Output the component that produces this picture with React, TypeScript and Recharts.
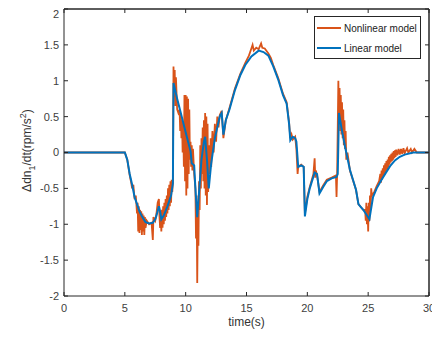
import React from 'react';
import { LineChart, Line, XAxis, YAxis, Legend, ReferenceLine } from 'recharts';

// ---- Data ----
const seriesNames = ['Nonlinear model', 'Linear model'];
const seriesColors = ['#D95319', '#0072BD'];

const xTicks = [0, 5, 10, 15, 20, 25, 30];
const yTicks = [-2, -1.5, -1, -0.5, 0, 0.5, 1, 1.5, 2];

const linearTime = [
  0, 5.0, 5.2, 5.4, 5.6, 5.8, 6.0, 6.2, 6.4, 6.7, 7.0, 7.3, 7.5, 7.6, 7.8, 7.9, 8.0, 8.2, 8.5, 8.8,
  8.95, 9.0, 9.3, 9.6, 9.9, 10.2, 10.4, 10.5, 10.7, 10.8, 10.95, 11.1, 11.3, 11.5, 11.6, 11.75, 11.9,
  12.1, 12.4, 12.8, 12.96, 13.1, 13.3, 13.6, 14.05, 14.5, 14.9, 15.4, 16.0, 16.4, 16.8, 17.2, 17.6,
  18.0, 18.3, 18.5, 18.6, 18.8, 19.0, 19.1, 19.25, 19.5, 19.7, 19.8, 20.0, 20.2, 20.6, 20.8, 21.0,
  21.3, 21.6, 22.0, 22.4, 22.5, 22.6, 22.8, 23.1, 23.5, 24.0, 24.2, 24.4, 24.6, 24.8, 25.1, 25.4,
  25.7, 26.1, 26.5, 26.8, 27.2, 27.6, 28.0, 28.7, 30,
];
const linearValue = [
  0, 0, -0.1, -0.3, -0.45, -0.62, -0.72, -0.82, -0.89, -0.97, -0.99, -0.98, -0.93, -0.88, -0.75, -0.82, -0.93, -0.88, -0.75, -0.6,
  -0.43, 0.97, 0.75, 0.55, 0.35, 0.15, 0.02, -0.15, -0.18, -0.5, -0.9, -0.55, -0.1, 0.15, 0.22, -0.1, -0.5,
  -0.15, 0.2, 0.5, 0.55, 0.25, 0.45, 0.6, 0.87, 1.08, 1.22, 1.34, 1.42, 1.4, 1.35, 1.2, 1.02,
  0.8, 0.68, 0.4, 0.17, 0.22, 0.2, 0.15, -0.2, -0.18, -0.2, -0.89, -0.65, -0.5, -0.28, -0.3, -0.57,
  -0.48, -0.4, -0.36, -0.34, -0.3, 0.55, 0.35, 0.08, -0.24, -0.52, -0.72, -0.76, -0.8, -0.85, -0.93, -0.62,
  -0.5, -0.38, -0.27, -0.19, -0.11, -0.06, -0.03, 0, 0,
];

const nonlinearTime = [
  0, 5.0, 5.2, 5.4, 5.5, 5.6, 5.7, 5.8, 5.9, 6.0, 6.05, 6.1, 6.15, 6.2, 6.25, 6.3, 6.35, 6.4, 6.45, 6.5,
  6.55, 6.6, 6.65, 6.7, 6.8, 7.0, 7.2, 7.3, 7.35, 7.5, 7.6, 7.7, 7.8, 7.85, 7.9, 7.95, 8.0, 8.05, 8.1,
  8.15, 8.2, 8.25, 8.3, 8.35, 8.4, 8.45, 8.5, 8.55, 8.6, 8.65, 8.7, 8.75, 8.8, 8.85, 8.9, 8.95,
  9.0, 9.05, 9.1, 9.15, 9.2, 9.3, 9.4, 9.5, 9.55, 9.6, 9.65, 9.7, 9.75, 9.8, 9.85, 9.9, 9.95, 10.0,
  10.05, 10.1, 10.15, 10.2, 10.25, 10.3, 10.35, 10.4, 10.45, 10.5, 10.55, 10.6, 10.7, 10.8, 10.85, 10.9,
  10.95, 11.0, 11.05, 11.1, 11.15, 11.2, 11.25, 11.3, 11.35, 11.4, 11.45, 11.5, 11.55, 11.6, 11.65, 11.7,
  11.75, 11.8, 11.85, 11.9, 12.0, 12.05, 12.1, 12.2, 12.3, 12.4, 12.5, 12.6, 12.7, 12.8, 12.96, 13.1,
  13.3, 13.6, 14.05, 14.5, 14.9, 15.2, 15.4, 15.5, 15.6, 15.8, 16.0, 16.2, 16.3, 16.5, 16.8, 17.0, 17.2,
  17.6, 18.0, 18.3, 18.5, 18.6, 18.7, 18.8, 19.0, 19.1, 19.2, 19.25, 19.5, 19.7, 19.8, 20.0, 20.2, 20.5,
  20.6, 20.65, 20.7, 20.8, 21.0, 21.3, 21.6, 22.0, 22.35, 22.4, 22.45, 22.55, 22.6, 22.65, 22.7, 22.75,
  22.8, 22.85, 22.9, 22.95, 23.0, 23.05, 23.1, 23.15, 23.2, 23.3, 23.5, 24.0, 24.2, 24.4, 24.6, 24.75,
  24.8, 24.85, 24.9, 24.95, 25.0, 25.05, 25.1, 25.15, 25.2, 25.25, 25.3, 25.5, 25.7, 25.9, 26.0, 26.05,
  26.1, 26.15, 26.2, 26.25, 26.3, 26.35, 26.4, 26.45, 26.5, 26.55, 26.6, 26.65, 26.7, 26.75, 26.8, 26.85,
  26.9, 26.95, 27.0, 27.05, 27.1, 27.15, 27.2, 27.25, 27.3, 27.4, 27.5, 27.6, 27.7, 27.8, 27.9, 28.0,
  28.2, 28.3, 28.5, 28.6, 28.8, 29.0, 30,
];
const nonlinearValue = [
  0, 0, -0.1, -0.32, -0.4, -0.5, -0.45, -0.65, -0.6, -0.85, -0.7, -1.1, -0.75, -1.12, -0.8, -1.08, -0.82, -1.15, -0.85, -1.1,
  -0.88, -1.15, -0.9, -1.05, -0.95, -1.0, -0.98, -1.22, -0.9, -0.95, -0.85, -0.7, -0.65, -0.9, -1.05, -0.85, -1.1, -0.8, -1.05,
  -0.75, -1.0, -0.7, -0.95, -0.65, -0.9, -0.6, -0.85, -0.5, -0.8, -0.45, -0.75, -0.4, -0.7, -0.38, -0.55, -0.4,
  1.2, 0.8, 1.15, 0.65, 1.05, 0.6, 0.55, 0.6, 0.3, 0.55, 0.2, 0.45, 0.0, 0.4, -0.2, 0.8, -0.4, 0.8,
  -0.6, 0.78, -0.5, 0.75, -0.3, 0.6, -0.1, 0.15, -0.2, 0.1, -0.25, 0.05, -0.3, -0.5, -1.2, -0.6,
  -1.82, -0.9, -1.3, -0.4, -0.8, 0.1, -0.5, 0.2, -0.3, 0.35, -0.4, 0.45, -0.5, 0.55, -0.6, 0.5,
  -0.73, 0.4, -0.55, 0.1, -0.3, 0.2, -0.2, 0.3, 0.0, 0.4, 0.15, 0.5, 0.35, 0.52, 0.58, 0.2,
  0.45, 0.62, 0.89, 1.1, 1.25, 1.35, 1.45, 1.5, 1.42, 1.46, 1.44, 1.52, 1.46, 1.45, 1.38, 1.32, 1.22,
  1.04, 0.82, 0.7, 0.42, 0.2, 0.25, 0.18, 0.22, 0.05, -0.3, -0.2, -0.17, -0.2, -0.85, -0.62, -0.48, -0.3,
  -0.08, -0.35, -0.25, -0.32, -0.55, -0.46, -0.38, -0.35, -0.32, -0.62, -0.3, 1.0, 0.4, 0.9, 0.3, 0.8,
  0.25, 0.7, 0.2, 0.6, 0.1, 0.45, 0.05, 0.3, -0.1, 0.0, -0.25, -0.52, -0.72, -0.76, -0.8, -0.8,
  -0.95, -0.7, -1.0, -0.75, -1.1, -0.7, -0.95, -0.6, -0.8, -0.5, -0.6, -0.55, -0.47, -0.4, -0.3, -0.42,
  -0.25, -0.38, -0.22, -0.33, -0.18, -0.3, -0.15, -0.27, -0.12, -0.24, -0.1, -0.2, -0.06, -0.17, -0.04, -0.14,
  -0.02, -0.12, 0.0, -0.1, 0.02, -0.08, 0.03, -0.06, 0.04, -0.04, 0.05, -0.03, 0.05, -0.02, 0.06, -0.01,
  0.06, 0.0, 0.05, 0.0, 0.05, 0.0, 0,
];

const linearData = linearTime.map((t, i) => ({ t, v: linearValue[i] }));
const nonlinearData = nonlinearTime.map((t, i) => ({ t, v: nonlinearValue[i] }));

const FONT = '"Liberation Sans", Arial, Helvetica, sans-serif';
const AXIS = '#262626';
const TICK_TEXT = { fontSize: 11, fill: '#404040', fontFamily: FONT };

const emptyTick = () => <g />;

const YLabel = (props: any) => {
  const vb = props.viewBox || {};
  const cx = 23;
  const cy = (vb.y ?? 0) + (vb.height ?? 0) / 2 - 2;
  return (
    <text
      x={cx}
      y={cy}
      transform={`rotate(-90, ${cx}, ${cy})`}
      textAnchor="middle"
      fontSize={12}
      fontFamily={FONT}
      fill="#333"
    >
      <tspan>Δdn</tspan>
      <tspan dy={4} fontSize={9}>1</tspan>
      <tspan dy={-4}>/dt(rpm/s</tspan>
      <tspan dy={-5} fontSize={9}>2</tspan>
      <tspan dy={5}>)</tspan>
    </text>
  );
};

const renderLegend = () => (
  <div
    style={{
      border: '1px solid #262626',
      background: '#fff',
      width: 105,
      height: 40,
      boxSizing: 'content-box',
      fontFamily: FONT,
      fontSize: 10,
      color: '#222',
      paddingTop: 1,
    }}
  >
    {seriesNames.map((name, i) => (
      <div key={name} style={{ display: 'flex', alignItems: 'center', height: 20 }}>
        <span
          style={{
            display: 'inline-block',
            width: 24,
            height: 2,
            marginLeft: 2,
            background: seriesColors[i],
          }}
        />
        <span style={{ marginLeft: 3, whiteSpace: 'nowrap' }}>{name}</span>
      </div>
    ))}
  </div>
);

export default function App() {
  return (
    <LineChart
      width={432}
      height={330}
      margin={{ top: 0, right: 10, bottom: 8, left: 0 }}
      style={{ background: '#fff' }}
    >
      <XAxis
        xAxisId="main"
        type="number"
        dataKey="t"
        domain={[0, 30]}
        ticks={xTicks}
        height={34}
        stroke={AXIS}
        tickSize={-4}
        tickMargin={12}
        tick={TICK_TEXT}
        allowDataOverflow
        label={{
          value: 'time(s)',
          position: 'insideBottom',
          offset: 4,
          style: { fontSize: 12, fill: '#333', fontFamily: FONT },
        }}
      />
      <XAxis
        xAxisId="top"
        orientation="top"
        type="number"
        dataKey="t"
        domain={[0, 30]}
        ticks={xTicks}
        height={1}
        stroke={AXIS}
        tickSize={-4}
        tickMargin={0}
        tick={emptyTick}
        allowDataOverflow
      />
      <YAxis
        yAxisId="main"
        type="number"
        domain={[-2, 2]}
        ticks={yTicks}
        width={56}
        stroke={AXIS}
        tickSize={-4}
        tickMargin={9}
        tick={TICK_TEXT}
        allowDataOverflow
        label={{ content: (p: any) => <YLabel {...p} /> }}
      />
      <YAxis
        yAxisId="right"
        orientation="right"
        type="number"
        domain={[-2, 2]}
        ticks={yTicks}
        width={1}
        stroke={AXIS}
        tickSize={-4}
        tickMargin={0}
        tick={emptyTick}
        allowDataOverflow
      />
      <Legend
        layout="horizontal"
        verticalAlign="middle"
        align="center"
        content={renderLegend}
        wrapperStyle={{ position: 'absolute', top: 8, left: 306, width: 107, height: 42 }}
      />
      <ReferenceLine xAxisId="main" yAxisId="main" y={2} stroke={AXIS} strokeWidth={1} ifOverflow="visible" />
      <ReferenceLine xAxisId="main" yAxisId="main" x={30} stroke={AXIS} strokeWidth={1} ifOverflow="visible" />
      <Line
        xAxisId="top"
        yAxisId="right"
        data={linearData}
        dataKey="v"
        stroke="none"
        strokeWidth={0}
        dot={false}
        activeDot={false}
        legendType="none"
        isAnimationActive={false}
      />
      <Line
        xAxisId="main"
        yAxisId="main"
        data={nonlinearData}
        dataKey="v"
        name={seriesNames[0]}
        type="linear"
        stroke={seriesColors[0]}
        strokeWidth={1.8}
        dot={false}
        activeDot={false}
        isAnimationActive={false}
      />
      <Line
        xAxisId="main"
        yAxisId="main"
        data={linearData}
        dataKey="v"
        name={seriesNames[1]}
        type="linear"
        stroke={seriesColors[1]}
        strokeWidth={2}
        dot={false}
        activeDot={false}
        isAnimationActive={false}
      />
    </LineChart>
  );
}
